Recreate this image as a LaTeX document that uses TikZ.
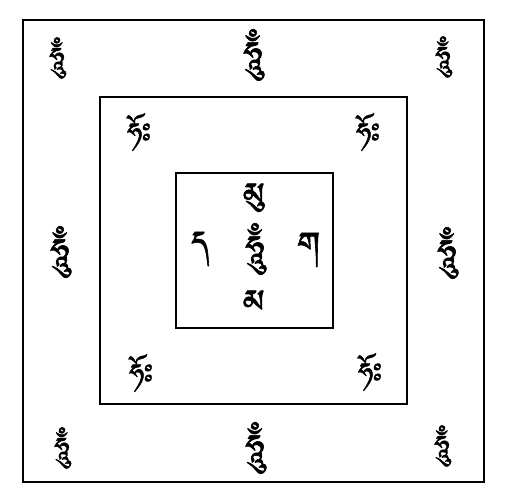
\documentclass[tikz,border=0pt]{standalone}
\usepackage{fontspec}
\usepackage{tikz}
\IfFontExistsTF{Jomolhari}{\newfontfamily\tibfont[Script=Tibetan,FakeBold=1.5]{Jomolhari}}{%
 \IfFontExistsTF{Tibetan Machine Uni}{\newfontfamily\tibfont[Script=Tibetan,FakeBold=1.5]{Tibetan Machine Uni}}{%
  \IfFontExistsTF{DDC Uchen}{\newfontfamily\tibfont[Script=Tibetan,FakeBold=1.5]{DDC Uchen}}{%
   \newfontfamily\tibfont{DejaVu Sans}}}}

\begin{document}
\begin{tikzpicture}[x=1pt,y=-1pt,
   syl/.style={font=\tibfont\fontsize{31}{31}\selectfont, inner sep=0pt},
   bigsyl/.style={font=\tibfont\fontsize{39}{39}\selectfont, inner sep=0pt}]
   \useasboundingbox (0,0) rectangle (508,502);
   \draw[line width=1.4pt] (23,20) rectangle (484,482);
   \draw[line width=1.4pt] (100,97) rectangle (407,404);
   \draw[line width=1.4pt] (176,173) rectangle (333,328);

   % outer ring
   \node(H1)[syl] at (57,58) {ཧཱུྃ};
   \node(H2)[bigsyl] at (253,55) {ཧཱུྃ};
   \node(H3)[syl] at (443,57) {ཧཱུྃ};
   \node(H4)[bigsyl] at (60,252) {ཧཱུྃ};
   \node(H5)[bigsyl] at (447,253) {ཧཱུྃ};
   \node(H6)[syl] at (62,448) {ཧཱུྃ};
   \node(H7)[bigsyl] at (255,448) {ཧཱུྃ};
   \node(H8)[syl] at (442,446) {ཧཱུྃ};

   % middle ring
   \node(O1)[syl] at (139,132) {ཧོཿ};
   \node(O2)[syl] at (368,132) {ཧོཿ};
   \node(O3)[syl] at (141,373) {ཧོཿ};
   \node(O4)[syl] at (370,372) {ཧོཿ};

   % inner square
   \node(C)[bigsyl] at (255,249) {ཧཱུྃ};
   \node(T)[bigsyl] at (254,198) {མུ};
   \node(L)[bigsyl] at (200,249) {ད};
   \node(R)[bigsyl] at (309,250) {ག};
   \node(B)[bigsyl] at (254,305) {མ};
\end{tikzpicture}
\end{document}
